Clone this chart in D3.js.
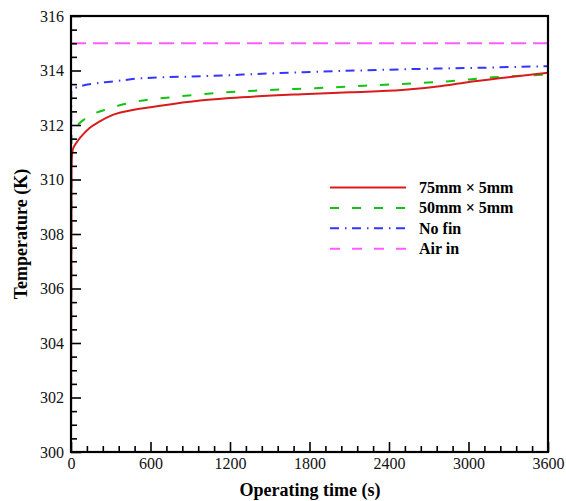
<!DOCTYPE html>
<html><head><meta charset="utf-8">
<script src="https://cdn.jsdelivr.net/npm/d3@7"></script>
<style>body{margin:0;background:#fff}svg{display:block}text{font-family:"Liberation Serif","Times New Roman",Times,"DejaVu Serif",serif}</style>
</head><body><svg id="c" width="566" height="501"></svg>
<script>
const seriesNames = ["75mm × 5mm", "50mm × 5mm", "No fin", "Air in"];
const redTime = [0, 4, 13, 38, 76, 138, 214, 315, 466, 600, 974, 1200, 1743, 2106, 2498, 2800, 2981, 3300, 3600];
const redTemp = [300, 310.6, 311.08, 311.33, 311.57, 311.88, 312.12, 312.37, 312.55, 312.65, 312.9, 312.99, 313.13, 313.2, 313.28, 313.43, 313.56, 313.75, 313.92];
const greenTime = [0, 3, 25, 113, 289, 453, 797, 1148, 1478, 1843, 2332, 2835, 3187, 3600];
const greenTemp = [300, 311.75, 311.88, 312.25, 312.61, 312.82, 313.04, 313.19, 313.28, 313.35, 313.47, 313.6, 313.75, 313.85];
const blueTime = [0, 2, 25, 189, 323, 521, 1049, 1553, 2030, 2558, 3087, 3600];
const blueTemp = [300, 313.3, 313.35, 313.53, 313.6, 313.71, 313.8, 313.9, 313.98, 314.05, 314.1, 314.16];
const airTime = [0, 3600];
const airTemp = [315, 315];
const xTicks = [0, 600, 1200, 1800, 2400, 3000, 3600];
const yTicks = [300, 302, 304, 306, 308, 310, 312, 314, 316];

const svg = d3.select("#c");
const FONT = '"Liberation Serif","Times New Roman",Times,"DejaVu Serif",serif';
const L = 71, R = 548, T = 16, B = 452;
const x = d3.scaleLinear().domain([0, 3600]).range([L, R]);
const y = d3.scaleLinear().domain([300, 316]).range([B, T]);

const styles = [
  {color: "#d81c1c", dash: null, w: 2},
  {color: "#12c412", dash: "9,13", w: 2},
  {color: "#3535ff", dash: "9,6,1.5,5.5", w: 2},
  {color: "#ff5cff", dash: "15,7", w: 2}
];
const data = [
  redTime.map((t, i) => [t, redTemp[i]]),
  greenTime.map((t, i) => [t, greenTemp[i]]),
  blueTime.map((t, i) => [t, blueTemp[i]]),
  airTime.map((t, i) => [t, airTemp[i]])
];

const line = d3.line().x(d => x(d[0])).y(d => y(d[1])).curve(d3.curveMonotoneX);
const g = svg.append("g");
[3, 2, 1, 0].forEach(i => {
  g.append("path").attr("d", line(data[i])).attr("fill", "none")
    .attr("stroke", styles[i].color).attr("stroke-width", styles[i].w)
    .attr("stroke-dasharray", styles[i].dash);
});

const xMinor = d3.range(0, 3601, 120).filter(v => v % 600 !== 0);
const yMinor = d3.range(300, 316.01, 0.5).filter(v => Math.abs(v % 2) > 1e-6);
const xAxis = svg.append("g").attr("transform", `translate(0,${B})`);
xAxis.call(d3.axisBottom(x).tickValues(xTicks).tickSize(-10).tickPadding(6).tickFormat(d3.format("d")));
const xAxisMinor = svg.append("g").attr("transform", `translate(0,${B})`);
xAxisMinor.call(d3.axisBottom(x).tickValues(xMinor).tickSize(-6).tickFormat(""));
const yAxis = svg.append("g").attr("transform", `translate(${L},0)`);
yAxis.call(d3.axisLeft(y).tickValues(yTicks).tickSize(-10).tickPadding(7).tickFormat(d3.format("d")));
const yAxisMinor = svg.append("g").attr("transform", `translate(${L},0)`);
yAxisMinor.call(d3.axisLeft(y).tickValues(yMinor).tickSize(-6).tickFormat(""));
svg.selectAll(".domain").remove();
svg.selectAll("g").attr("font-family", FONT);
svg.selectAll(".tick line").attr("stroke", "#000").attr("stroke-width", 1.6);
svg.selectAll(".tick text").attr("font-size", 16).attr("fill", "#111")
  .style("font-family", FONT);

svg.append("rect").attr("x", L).attr("y", T).attr("width", R - L).attr("height", B - T)
  .attr("fill", "none").attr("stroke", "#000").attr("stroke-width", 2.2);

svg.append("text").attr("x", 310).attr("y", 496).attr("text-anchor", "middle")
  .style("font-family", FONT)
  .attr("font-size", 18).attr("font-weight", "bold").text("Operating time (s)");
svg.append("text").attr("transform", "translate(27,234) rotate(-90)").attr("text-anchor", "middle")
  .style("font-family", FONT)
  .attr("font-size", 18).attr("font-weight", "bold").text("Temperature (K)");

const lg = svg.append("g");
seriesNames.forEach((n, i) => {
  const yy = 187.5 + i * 20.4;
  lg.append("line").attr("x1", 330).attr("x2", 406).attr("y1", yy).attr("y2", yy)
    .attr("stroke", styles[i].color).attr("stroke-width", styles[i].w)
    .attr("stroke-dasharray", i === 3 ? "10,12" : styles[i].dash);
  lg.append("text").attr("x", 419).attr("y", yy + 5.5).attr("font-size", 16)
    .style("font-family", FONT)
    .attr("font-weight", "bold").text(n);
});
</script></body></html>
